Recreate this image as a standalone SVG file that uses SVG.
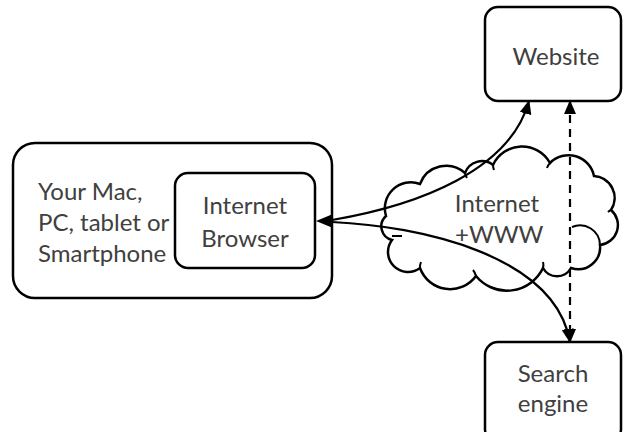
<svg xmlns="http://www.w3.org/2000/svg" width="623" height="432" viewBox="0 0 623 432">
<style>
.box{fill:#fff;stroke:#000;stroke-width:2.5}
.lbl{font-family:Lato,"Liberation Sans",sans-serif;font-size:24px;fill:#404040}
.c{text-anchor:middle}
.conn{fill:none;stroke:#000;stroke-width:2.2}
</style>
<defs>
<marker id="ah" viewBox="0 0 14 12" refX="13" refY="6" markerWidth="14" markerHeight="12" markerUnits="userSpaceOnUse" orient="auto-start-reverse">
<path d="M0,0 L14,6 L0,12 z" fill="#000"/>
</marker>
</defs>
<g id="device">
<rect class="box" x="13" y="143" width="319" height="155" rx="22"/>
<text class="lbl" x="38" y="200">Your Mac,</text>
<text class="lbl" x="38" y="231">PC, tablet or</text>
<text class="lbl" x="38" y="262">Smartphone</text>
</g>
<g id="browser">
<rect class="box" x="175" y="173" width="140" height="95" rx="13"/>
<text class="lbl c" x="245" y="214">Internet</text>
<text class="lbl c" x="245" y="247">Browser</text>
</g>
<g id="website">
<rect class="box" x="485" y="7" width="136" height="94" rx="13"/>
<text class="lbl c" x="556" y="65">Website</text>
</g>
<g id="search">
<rect class="box" x="485" y="342" width="136" height="100" rx="13"/>
<text class="lbl c" x="553" y="382">Search</text>
<text class="lbl c" x="553" y="412">engine</text>
</g>
<g id="cloud">
<path class="box" stroke-width="2" d="M386,216 A26,26 0 0 1 420,184 A28,28 0 0 1 465,173 A18,18 0 0 1 493,165 A32,32 0 0 1 550,163 A26,26 0 0 1 594,176 A22,22 0 0 1 611,210 A20,20 0 0 1 600,245 A22,22 0 0 1 571,268 A16,16 0 0 1 543,268 A40,40 0 0 1 476,276 A32,32 0 0 1 420,268 A20,20 0 0 1 392,240 A14,14 0 0 1 386,216 z"/>
<path fill="none" stroke="#000" stroke-width="2" d="M572,227 A20,20 0 0 1 600,245 M611,210 A8,8 0 0 0 608,212 M465,173 A12,12 0 0 0 467,178 M493,165 A14,14 0 0 0 494,170 M550,163 A14,14 0 0 0 547,168 M543,268 A12,12 0 0 0 543,262 M476,276 A14,14 0 0 0 473,270 M420,268 A14,14 0 0 1 421,262 M392,236 L402,236"/>
<text class="lbl c" x="497" y="212">Internet</text>
<text class="lbl" x="455" y="243">+WWW</text>
</g>
<g id="connectors">
<path class="conn" d="M332,220 C420,205 510,170 529,101" marker-end="url(#ah)"/>
<path class="conn" d="M332,222 C420,226 555,255 570,342" marker-end="url(#ah)"/>
<path class="conn" d="M570,101 L570,342" stroke-dasharray="8 6" marker-start="url(#ah)" marker-end="url(#ah)"/>
<path d="M316,221 L333,214 L333,228 z" fill="#000"/>
</g>
</svg>
